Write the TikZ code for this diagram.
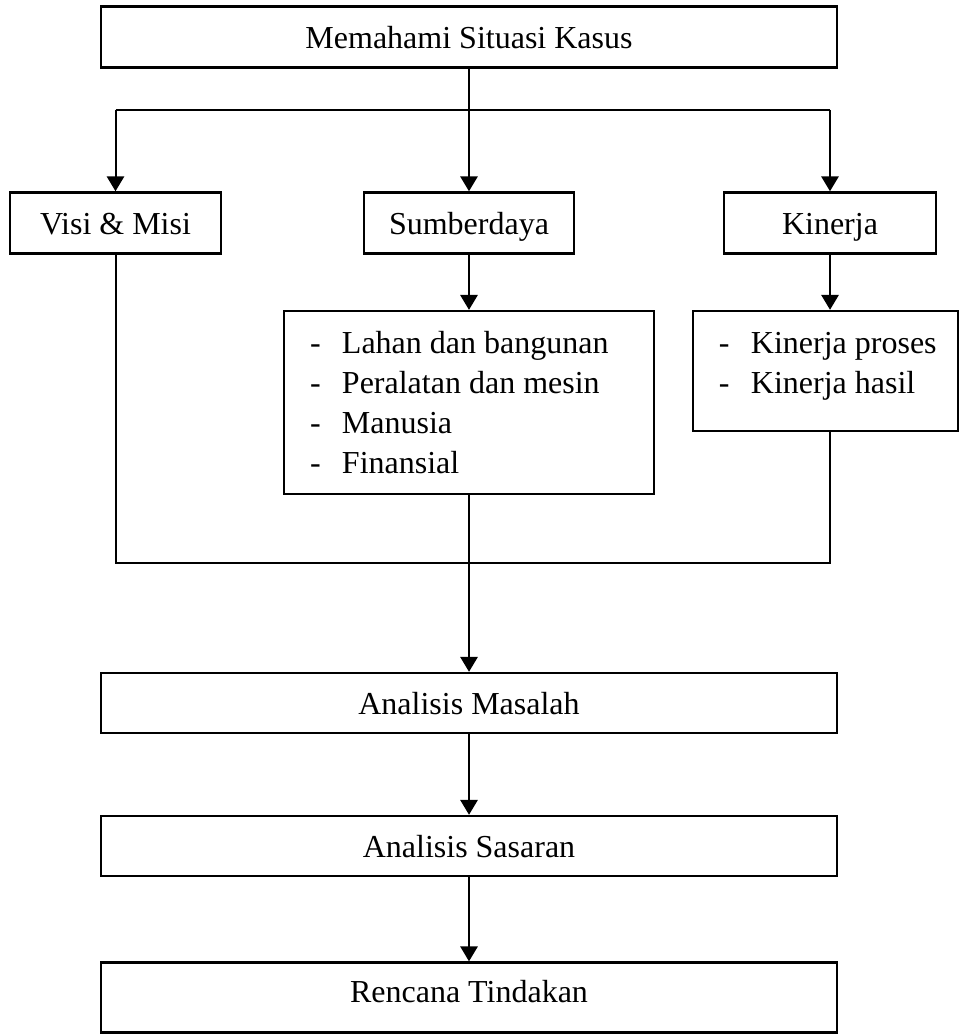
\documentclass[tikz,border=0pt]{standalone}
\usepackage{fontspec}
\setmainfont{Liberation Serif}
\usetikzlibrary{calc,arrows.meta}

\newcommand{\daftar}[3]{\parbox[c][#2][t]{#1}{\fontsize{12}{15}\selectfont\vspace*{5.25pt}#3}}
\newcommand{\butir}[1]{\hspace*{9.75pt}\makebox[12pt][l]{-}#1\strut\par}

\tikzset{
	bingkai/.style={draw, line width=0.9pt, inner sep=0pt, font=\fontsize{12}{14}\selectfont},
	kotak/.style={bingkai, minimum height=22.9pt, text height=9.7pt, text depth=1pt},
	garis/.style={line width=0.75pt},
	panah/.style={line width=0.75pt, -{Triangle[length=5.6pt,width=6.5pt]}}
}

\begin{document}
\begin{tikzpicture}[x=0.375pt, y=-0.375pt]
		\useasboundingbox (0,0) rectangle (960,1034);

		% Situasi
		\node[kotak, minimum width=276pt] (situasi) at (469,37) {Memahami Situasi Kasus};
		\coordinate (cabang) at (469,110);
		\draw[garis] (situasi.south) -- (cabang);

		% Visi, Sumberdaya, Kinerja
		\node[kotak, minimum width=79.1pt] (visi) at (115.5,223) {Visi \& Misi};
		\node[kotak, minimum width=78.75pt] (sumber) at (469,223) {Sumberdaya};
		\node[kotak, minimum width=79.5pt] (kinerja) at (830,223) {Kinerja};
		\draw[garis] (visi.north |- cabang) -- (kinerja.north |- cabang);
		\draw[panah] (visi.north |- cabang) -- (visi.north);
		\draw[panah] (cabang) -- (sumber.north);
		\draw[panah] (kinerja.north |- cabang) -- (kinerja.north);

		% Rincian
		\node[bingkai] (rincian) at (469,402.5) {\daftar{138.75pt}{68.6pt}{%
			\butir{Lahan dan bangunan}
			\butir{Peralatan dan mesin}
			\butir{Manusia}
			\butir{Finansial}}};
		\node[bingkai] (ukuran) at (825.5,371) {\daftar{99.4pt}{45pt}{%
			\butir{Kinerja proses}
			\butir{Kinerja hasil}}};
		\draw[panah] (sumber.south) -- (rincian.north);
		\draw[panah] (kinerja.south) -- (kinerja.south |- ukuran.north);

		% Gabungan
		\coordinate (gabung) at (469,563);
		\draw[garis] (visi.south) -- (visi.south |- gabung) -- (kinerja.south |- gabung) -- (kinerja.south |- ukuran.south);

		% Analisis
		\node[kotak, minimum width=276pt, minimum height=22.5pt] (masalah) at (469,703) {Analisis Masalah};
		\node[kotak, minimum width=276pt, minimum height=22.5pt] (sasaran) at (469,846) {Analisis Sasaran};
		\node[kotak, minimum width=276pt, minimum height=26.25pt, text height=7pt, text depth=3.6pt] (rencana) at (469,997.5) {Rencana Tindakan};
		\draw[panah] (rincian.south) -- (masalah.north);
		\draw[panah] (masalah.south) -- (sasaran.north);
		\draw[panah] (sasaran.south) -- (rencana.north);
	\end{tikzpicture}
\end{document}
